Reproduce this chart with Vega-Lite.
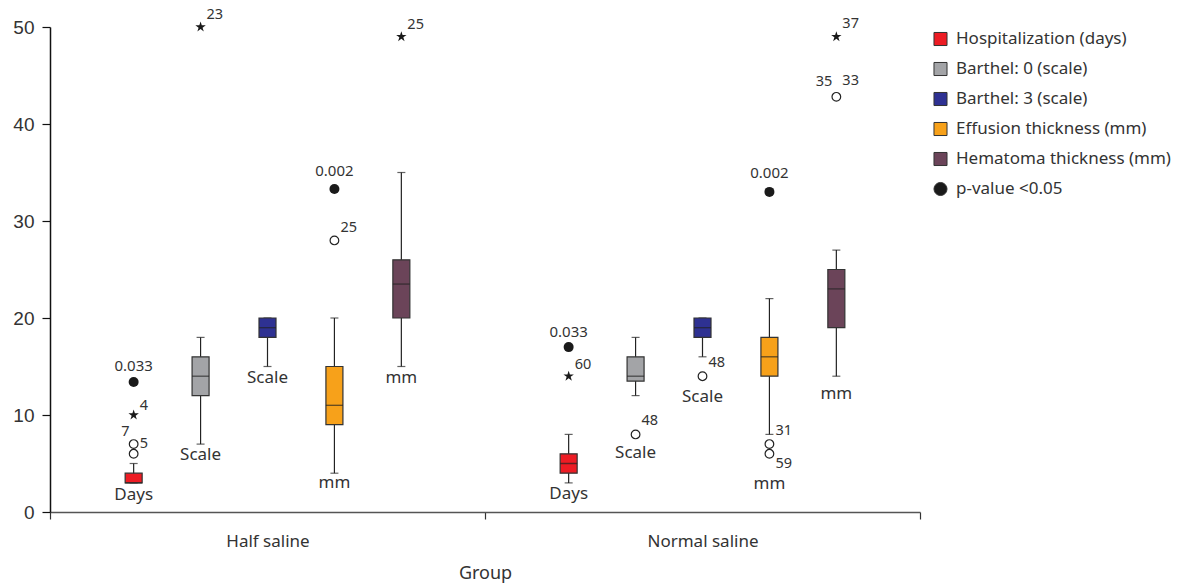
{
  "$schema": "https://vega.github.io/schema/vega-lite/v6.json",
  "autosize": {"type": "none"},
  "width": 870,
  "height": 485,
  "padding": {"left": 50, "top": 27, "right": 267, "bottom": 73},
  "background": "white",
  "config": {
    "view": {"stroke": null},
    "font": "Noto Sans",
    "text": {"font": "Noto Sans", "color": "#333"}
  },
  "datasets": {
    "boxes": [
      {"Group": "Half saline", "Series": "Hospitalization (days)", "Key": "Hospitalization (days)", "lo": 3, "q1": 3, "med": 3, "q3": 4, "hi": 5},
      {"Group": "Half saline", "Series": "Barthel: 0 (scale)", "Key": "Barthel: 0 (scale)", "lo": 7, "q1": 12, "med": 14, "q3": 16, "hi": 18},
      {"Group": "Half saline", "Series": "Barthel: 3 (scale)", "Key": "Barthel: 3 (scale)", "lo": 15, "q1": 18, "med": 19, "q3": 20, "hi": 20},
      {"Group": "Half saline", "Series": "Effusion thickness (mm)", "Key": "Effusion thickness (mm)", "lo": 4, "q1": 9, "med": 11, "q3": 15, "hi": 20},
      {"Group": "Half saline", "Series": "Hematoma thickness (mm)", "Key": "Hematoma thickness (mm)", "lo": 15, "q1": 20, "med": 23.5, "q3": 26, "hi": 35},
      {"Group": "Normal saline", "Series": "Hospitalization (days)", "Key": "Hospitalization (days)", "lo": 3, "q1": 4, "med": 5, "q3": 6, "hi": 8},
      {"Group": "Normal saline", "Series": "Barthel: 0 (scale)", "Key": "Barthel: 0 (scale)", "lo": 12, "q1": 13.5, "med": 14, "q3": 16, "hi": 18},
      {"Group": "Normal saline", "Series": "Barthel: 3 (scale)", "Key": "Barthel: 3 (scale)", "lo": 16, "q1": 18, "med": 19, "q3": 20, "hi": 20},
      {"Group": "Normal saline", "Series": "Effusion thickness (mm)", "Key": "Effusion thickness (mm)", "lo": 8, "q1": 14, "med": 16, "q3": 18, "hi": 22},
      {"Group": "Normal saline", "Series": "Hematoma thickness (mm)", "Key": "Hematoma thickness (mm)", "lo": 14, "q1": 19, "med": 23, "q3": 25, "hi": 27}
    ],
    "points": [
      {"Group": "Half saline", "Series": "Hospitalization (days)", "y": 7, "type": "outlier"},
      {"Group": "Half saline", "Series": "Hospitalization (days)", "y": 6, "type": "outlier"},
      {"Group": "Half saline", "Series": "Hospitalization (days)", "y": 10, "type": "extreme"},
      {"Group": "Half saline", "Series": "Hospitalization (days)", "y": 13.4, "type": "p", "Key": "p-value <0.05"},
      {"Group": "Half saline", "Series": "Barthel: 0 (scale)", "y": 50, "type": "extreme"},
      {"Group": "Half saline", "Series": "Effusion thickness (mm)", "y": 28, "type": "outlier"},
      {"Group": "Half saline", "Series": "Effusion thickness (mm)", "y": 33.3, "type": "p", "Key": "p-value <0.05"},
      {"Group": "Half saline", "Series": "Hematoma thickness (mm)", "y": 49, "type": "extreme"},
      {"Group": "Normal saline", "Series": "Hospitalization (days)", "y": 17, "type": "p", "Key": "p-value <0.05"},
      {"Group": "Normal saline", "Series": "Hospitalization (days)", "y": 14, "type": "extreme"},
      {"Group": "Normal saline", "Series": "Barthel: 0 (scale)", "y": 8, "type": "outlier"},
      {"Group": "Normal saline", "Series": "Barthel: 3 (scale)", "y": 14, "type": "outlier"},
      {"Group": "Normal saline", "Series": "Effusion thickness (mm)", "y": 7, "type": "outlier"},
      {"Group": "Normal saline", "Series": "Effusion thickness (mm)", "y": 6, "type": "outlier"},
      {"Group": "Normal saline", "Series": "Effusion thickness (mm)", "y": 33, "type": "p", "Key": "p-value <0.05"},
      {"Group": "Normal saline", "Series": "Hematoma thickness (mm)", "y": 49, "type": "extreme"},
      {"Group": "Normal saline", "Series": "Hematoma thickness (mm)", "y": 42.8, "type": "outlier"}
    ],
    "labels": [
      {"Group": "Half saline", "Series": "Hospitalization (days)", "y": 15.05, "label": "0.033", "kind": "pval"},
      {"Group": "Half saline", "Series": "Hospitalization (days)", "y": 10.95, "label": "4", "kind": "right"},
      {"Group": "Half saline", "Series": "Hospitalization (days)", "y": 8.2, "label": "7", "kind": "left"},
      {"Group": "Half saline", "Series": "Hospitalization (days)", "y": 7.0, "label": "5", "kind": "right"},
      {"Group": "Half saline", "Series": "Hospitalization (days)", "y": 1.75, "label": "Days", "kind": "unit"},
      {"Group": "Half saline", "Series": "Barthel: 0 (scale)", "y": 51.2, "label": "23", "kind": "right"},
      {"Group": "Half saline", "Series": "Barthel: 0 (scale)", "y": 5.9, "label": "Scale", "kind": "unit"},
      {"Group": "Half saline", "Series": "Barthel: 3 (scale)", "y": 13.85, "label": "Scale", "kind": "unit"},
      {"Group": "Half saline", "Series": "Effusion thickness (mm)", "y": 29.3, "label": "25", "kind": "right"},
      {"Group": "Half saline", "Series": "Effusion thickness (mm)", "y": 35.2, "label": "0.002", "kind": "pval"},
      {"Group": "Half saline", "Series": "Effusion thickness (mm)", "y": 2.95, "label": "mm", "kind": "unit"},
      {"Group": "Half saline", "Series": "Hematoma thickness (mm)", "y": 50.2, "label": "25", "kind": "right"},
      {"Group": "Half saline", "Series": "Hematoma thickness (mm)", "y": 13.8, "label": "mm", "kind": "unit"},
      {"Group": "Normal saline", "Series": "Hospitalization (days)", "y": 18.6, "label": "0.033", "kind": "pval"},
      {"Group": "Normal saline", "Series": "Hospitalization (days)", "y": 15.2, "label": "60", "kind": "right"},
      {"Group": "Normal saline", "Series": "Hospitalization (days)", "y": 1.85, "label": "Days", "kind": "unit"},
      {"Group": "Normal saline", "Series": "Barthel: 0 (scale)", "y": 9.4, "label": "48", "kind": "right"},
      {"Group": "Normal saline", "Series": "Barthel: 0 (scale)", "y": 6.1, "label": "Scale", "kind": "unit"},
      {"Group": "Normal saline", "Series": "Barthel: 3 (scale)", "y": 15.4, "label": "48", "kind": "right"},
      {"Group": "Normal saline", "Series": "Barthel: 3 (scale)", "y": 11.9, "label": "Scale", "kind": "unit"},
      {"Group": "Normal saline", "Series": "Effusion thickness (mm)", "y": 8.35, "label": "31", "kind": "right"},
      {"Group": "Normal saline", "Series": "Effusion thickness (mm)", "y": 5.0, "label": "59", "kind": "right"},
      {"Group": "Normal saline", "Series": "Effusion thickness (mm)", "y": 2.9, "label": "mm", "kind": "unit"},
      {"Group": "Normal saline", "Series": "Effusion thickness (mm)", "y": 34.9, "label": "0.002", "kind": "pval"},
      {"Group": "Normal saline", "Series": "Hematoma thickness (mm)", "y": 50.3, "label": "37", "kind": "right"},
      {"Group": "Normal saline", "Series": "Hematoma thickness (mm)", "y": 44.3, "label": "35", "kind": "left"},
      {"Group": "Normal saline", "Series": "Hematoma thickness (mm)", "y": 44.45, "label": "33", "kind": "right"},
      {"Group": "Normal saline", "Series": "Hematoma thickness (mm)", "y": 12.2, "label": "mm", "kind": "unit"}
    ]
  },
  "encoding": {
    "x": {
      "field": "Group", "type": "nominal",
      "scale": {"domain": ["Half saline", "Normal saline"], "paddingInner": 0, "paddingOuter": 0},
      "axis": {
        "title": "Group", "labelAngle": 0, "tickBand": "extent",
        "domainColor": "#555", "domainWidth": 1.5, "tickColor": "#333", "tickWidth": 1.2, "tickSize": 7,
        "labelFont": "Noto Sans", "labelFontSize": 17, "labelColor": "#333", "labelPadding": 14,
        "titleFont": "Noto Sans", "titleFontSize": 18, "titleFontWeight": "normal", "titleColor": "#333", "titlePadding": 15
      }
    },
    "xOffset": {
      "field": "Series", "type": "nominal",
      "scale": {"domain": ["Hospitalization (days)", "Barthel: 0 (scale)", "Barthel: 3 (scale)", "Effusion thickness (mm)", "Hematoma thickness (mm)"], "paddingInner": 0, "paddingOuter": 0.75}
    }
  },
  "layer": [
    {
      "data": {"name": "boxes"},
      "mark": {"type": "rule", "color": "#222", "strokeWidth": 1.2},
      "encoding": {
        "y": {"field": "lo", "type": "quantitative", "scale": {"domain": [0, 50], "nice": false},
          "axis": {"title": null, "values": [0, 10, 20, 30, 40, 50], "grid": false, "domainColor": "#111", "domainWidth": 1.5, "tickColor": "#111", "tickWidth": 1.2, "tickSize": 8,
            "labelFont": "Liberation Sans", "labelFontSize": 19, "labelColor": "#333", "labelPadding": 8}},
        "y2": {"field": "hi"}
      }
    },
    {
      "data": {"name": "boxes"},
      "mark": {"type": "tick", "color": "#222", "size": 8, "thickness": 1.2, "orient": "horizontal"},
      "encoding": {"y": {"field": "lo", "type": "quantitative"}}
    },
    {
      "data": {"name": "boxes"},
      "mark": {"type": "tick", "color": "#222", "size": 8, "thickness": 1.2, "orient": "horizontal"},
      "encoding": {"y": {"field": "hi", "type": "quantitative"}}
    },
    {
      "data": {"name": "boxes"},
      "mark": {"type": "bar", "width": 17, "stroke": "#333", "strokeWidth": 1.2},
      "encoding": {
        "y": {"field": "q1", "type": "quantitative"},
        "y2": {"field": "q3"},
        "color": {
          "field": "Key", "type": "nominal",
          "scale": {
            "domain": ["Hospitalization (days)", "Barthel: 0 (scale)", "Barthel: 3 (scale)", "Effusion thickness (mm)", "Hematoma thickness (mm)", "p-value <0.05"],
            "range": ["#ED1C24", "#A3A4A7", "#2E3192", "#F7A11A", "#6B4459", "#1a1a1a"]
          },
          "legend": {
            "title": null, "orient": "none", "legendX": 882, "legendY": 3.5, "padding": 0,
            "labelFont": "Noto Sans", "labelFontSize": 17, "labelColor": "#333", "labelOffset": 7, "labelLimit": 300,
            "symbolSize": 170, "symbolStrokeColor": "#333", "symbolStrokeWidth": 1, "symbolOpacity": 1, "rowPadding": 11
          }
        }
      }
    },
    {
      "data": {"name": "boxes"},
      "mark": {"type": "tick", "color": "#222", "size": 17, "thickness": 1.3, "orient": "horizontal"},
      "encoding": {"y": {"field": "med", "type": "quantitative"}}
    },
    {
      "data": {"name": "points"},
      "transform": [{"filter": "datum.type === 'outlier'"}],
      "mark": {"type": "point", "shape": "circle", "filled": true, "fill": "white", "stroke": "#222", "strokeWidth": 1.2, "size": 75, "opacity": 1},
      "encoding": {"y": {"field": "y", "type": "quantitative"}}
    },
    {
      "data": {"name": "points"},
      "transform": [{"filter": "datum.type === 'extreme'"}],
      "mark": {"type": "point", "shape": "M0,-1L0.2245,-0.309L0.951,-0.309L0.363,0.118L0.588,0.809L0,0.382L-0.588,0.809L-0.363,0.118L-0.951,-0.309L-0.2245,-0.309Z", "filled": true, "color": "#1a1a1a", "size": 120, "opacity": 1},
      "encoding": {"y": {"field": "y", "type": "quantitative"}}
    },
    {
      "data": {"name": "points"},
      "transform": [{"filter": "datum.type === 'p'"}],
      "mark": {"type": "point", "filled": true, "size": 100, "opacity": 1},
      "encoding": {
        "y": {"field": "y", "type": "quantitative"},
        "color": {"field": "Key", "type": "nominal"},
        "shape": {
          "field": "Key", "type": "nominal",
          "scale": {
            "domain": ["Hospitalization (days)", "Barthel: 0 (scale)", "Barthel: 3 (scale)", "Effusion thickness (mm)", "Hematoma thickness (mm)", "p-value <0.05"],
            "range": ["square", "square", "square", "square", "square", "circle"]
          }
        }
      }
    },
    {
      "data": {"name": "labels"},
      "transform": [{"filter": "datum.kind === 'right'"}],
      "mark": {"type": "text", "align": "left", "baseline": "middle", "dx": 6, "fontSize": 14.5},
      "encoding": {"y": {"field": "y", "type": "quantitative"}, "text": {"field": "label"}}
    },
    {
      "data": {"name": "labels"},
      "transform": [{"filter": "datum.kind === 'left'"}],
      "mark": {"type": "text", "align": "right", "baseline": "middle", "dx": -4, "fontSize": 14.5},
      "encoding": {"y": {"field": "y", "type": "quantitative"}, "text": {"field": "label"}}
    },
    {
      "data": {"name": "labels"},
      "transform": [{"filter": "datum.kind === 'pval'"}],
      "mark": {"type": "text", "align": "center", "baseline": "middle", "fontSize": 15},
      "encoding": {"y": {"field": "y", "type": "quantitative"}, "text": {"field": "label"}}
    },
    {
      "data": {"name": "labels"},
      "transform": [{"filter": "datum.kind === 'unit'"}],
      "mark": {"type": "text", "align": "center", "baseline": "middle", "fontSize": 17},
      "encoding": {"y": {"field": "y", "type": "quantitative"}, "text": {"field": "label"}}
    }
  ]
}
